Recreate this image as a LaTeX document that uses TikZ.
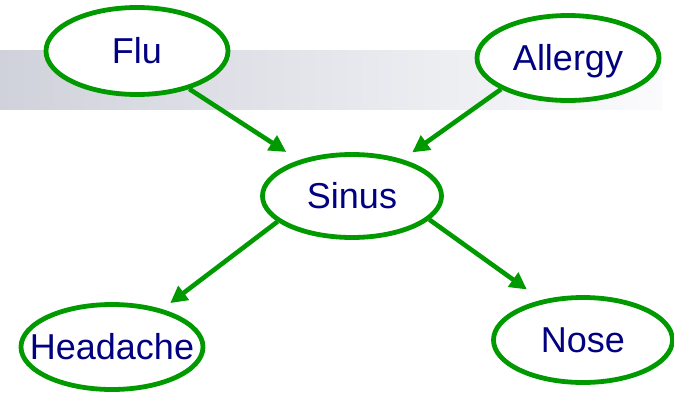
\documentclass[tikz,border=0pt]{standalone}
\usepackage{fontspec}
\setmainfont{Liberation Sans}
\usetikzlibrary{shapes.geometric,arrows.meta}
\definecolor{netgreen}{RGB}{0,153,0}
\definecolor{netblue}{RGB}{0,0,128}
\definecolor{bandleft}{RGB}{208,210,219}
\definecolor{bandmid}{RGB}{236,237,242}
\definecolor{bandright}{RGB}{251,251,253}
\begin{document}
\begin{tikzpicture}[x=1pt,y=-1pt,
  var/.style={ellipse,draw=netgreen,line width=4.8pt,fill=white,inner sep=0pt,
    text=netblue,font=\fontsize{36}{40}\selectfont,text height=25.8pt,text depth=0pt},
  edge/.style={netgreen,line width=4.6pt,-{Triangle[length=17pt,width=17pt]}}]

\useasboundingbox (0,0) rectangle (674,393);
\shade[left color=bandleft,middle color=bandmid,right color=bandright] (0,51) rectangle (662,110);

\node[var,minimum width=182pt,minimum height=87pt] (flu) at (137,51) {\makebox[0pt]{Flu}};
\node[var,minimum width=182pt,minimum height=85pt] (allergy) at (568,58) {\makebox[0pt]{Allergy}};
\node[var,minimum width=179pt,minimum height=83pt] (sinus) at (352,196) {\makebox[0pt]{Sinus}};
\node[var,minimum width=182pt,minimum height=85pt] (headache) at (112,347) {\makebox[0pt]{Headache}};
\node[var,minimum width=179pt,minimum height=85pt] (nose) at (583,340) {\makebox[0pt]{Nose}};

\draw[edge,shorten >=15pt] (flu.-36) -- (sinus.146);
\draw[edge,shorten >=12pt] (allergy.-155) -- (sinus.36);
\draw[edge,shorten >=10pt] (sinus.-161) -- (headache.37);
\draw[edge,shorten >=18pt] (sinus.-17) -- (nose.136);

\end{tikzpicture}
\end{document}
